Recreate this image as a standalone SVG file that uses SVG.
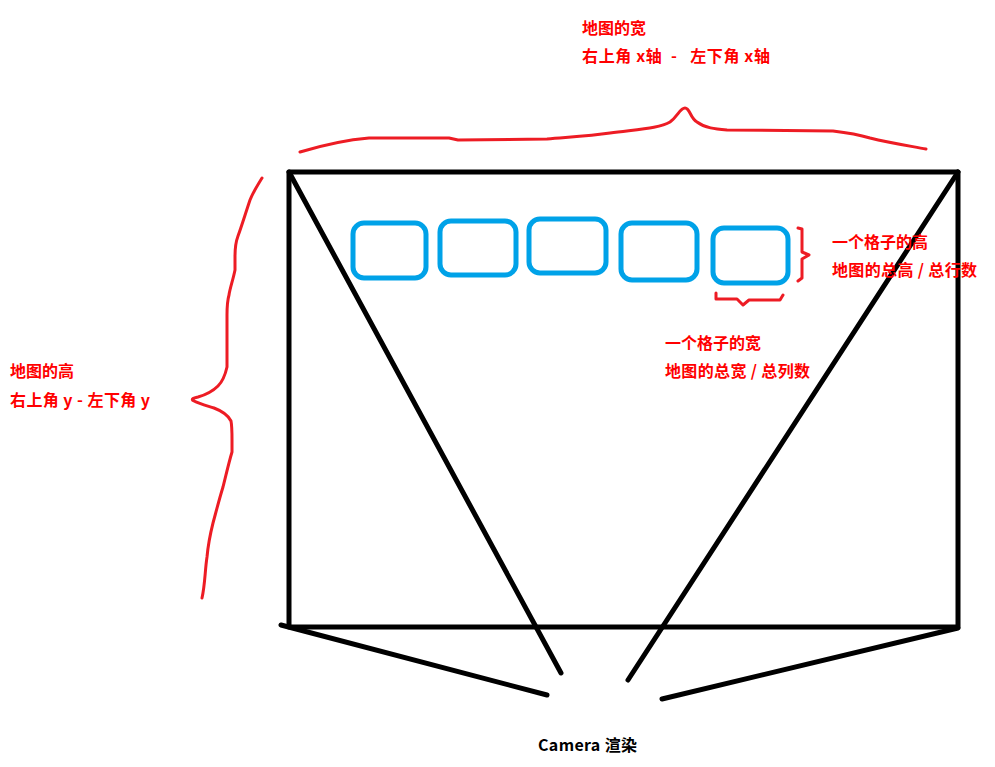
<svg xmlns="http://www.w3.org/2000/svg" width="995" height="767" viewBox="0 0 995 767">
<style>
.blk{fill:none;stroke:#000;stroke-width:5;stroke-linecap:round;stroke-linejoin:round}
.red{fill:none;stroke:#ed1c24;stroke-width:3;stroke-linecap:round;stroke-linejoin:round}
.cell{fill:none;stroke:#00a2e8;stroke-width:5}
.lbl{font-family:"Noto Sans CJK SC","Microsoft YaHei",sans-serif;font-weight:bold;font-size:16px;fill:#ff0000}
.cam{font-family:"Noto Sans CJK SC",sans-serif;font-weight:bold;font-size:16px;fill:#000}
</style>
<rect width="995" height="767" fill="#fff"/>
<g id="map">
<rect class="blk" x="289" y="172" width="669" height="455" stroke-linecap="square"/>
</g>
<g id="frustum">
<line class="blk" x1="289" y1="172" x2="561" y2="673"/>
<line class="blk" x1="958" y1="172" x2="628" y2="680"/>
<line class="blk" x1="281" y1="625" x2="547" y2="695"/>
<line class="blk" x1="958" y1="628" x2="662" y2="699"/>
</g>
<g id="cells">
<rect class="cell" x="353" y="223" width="73" height="55" rx="11"/>
<rect class="cell" x="440" y="221" width="76" height="54" rx="11"/>
<rect class="cell" x="529" y="219" width="77" height="54" rx="11"/>
<rect class="cell" x="621" y="223" width="76" height="57" rx="11"/>
<rect class="cell" x="713" y="228" width="75" height="55" rx="11"/>
</g>
<g id="braces">
<path class="red" d="M300,152 C320,146 345,140 369,138 L449,138 L458,140 L547,139 C570,137 590,136 610,133 C640,129 660,128 670,122 C678,116 680,108 685,108 C690,108 690,118 697,122 C705,128 715,129 727,130 L833,131 C850,133 860,135 870,138 C890,143 910,146 926,149"/>
<path class="red" d="M262,178 C257,186 252,195 250,200 C245,215 241,228 238,236 C235,244 235,250 235,256 L235,270 C233,280 230,288 229,295 C227,302 227,307 227,315 L227,367 C225,376 222,382 218,386 C212,392 205,395 198,397 C194,398 190,399 194,401 C200,404 208,406 214,408 C222,411 228,415 231,421 C232,426 232,432 232,440 L232,452 C229,462 226,475 223,487 C219,500 216,512 213,523 C210,535 208,546 207,557 C205,570 205,585 202,598"/>
<path class="red" d="M798,228 L802,229 L802,252 L809,255 L802,259 L802,278 L798,281"/>
<path class="red" d="M716,293 L716,299 L737,299 L743,305 L749,300 L780,300 L783,295"/>
</g>
<g id="labels">
<text class="lbl" x="582" y="34">地图的宽</text>
<text class="lbl" x="582" y="62" xml:space="preserve" textLength="188" lengthAdjust="spacing">右上角 x轴  -   左下角 x轴</text>
<text class="lbl" x="10" y="377">地图的高</text>
<text class="lbl" x="10" y="406" textLength="140" lengthAdjust="spacing">右上角 y - 左下角 y</text>
<text class="lbl" x="832" y="248">一个格子的高</text>
<text class="lbl" x="832" y="276" textLength="145" lengthAdjust="spacing">地图的总高 / 总行数</text>
<text class="lbl" x="665" y="349">一个格子的宽</text>
<text class="lbl" x="665" y="377" textLength="145" lengthAdjust="spacing">地图的总宽 / 总列数</text>
<text class="cam" x="538" y="751" textLength="99" lengthAdjust="spacing">Camera 渲染</text>
</g>
</svg>
